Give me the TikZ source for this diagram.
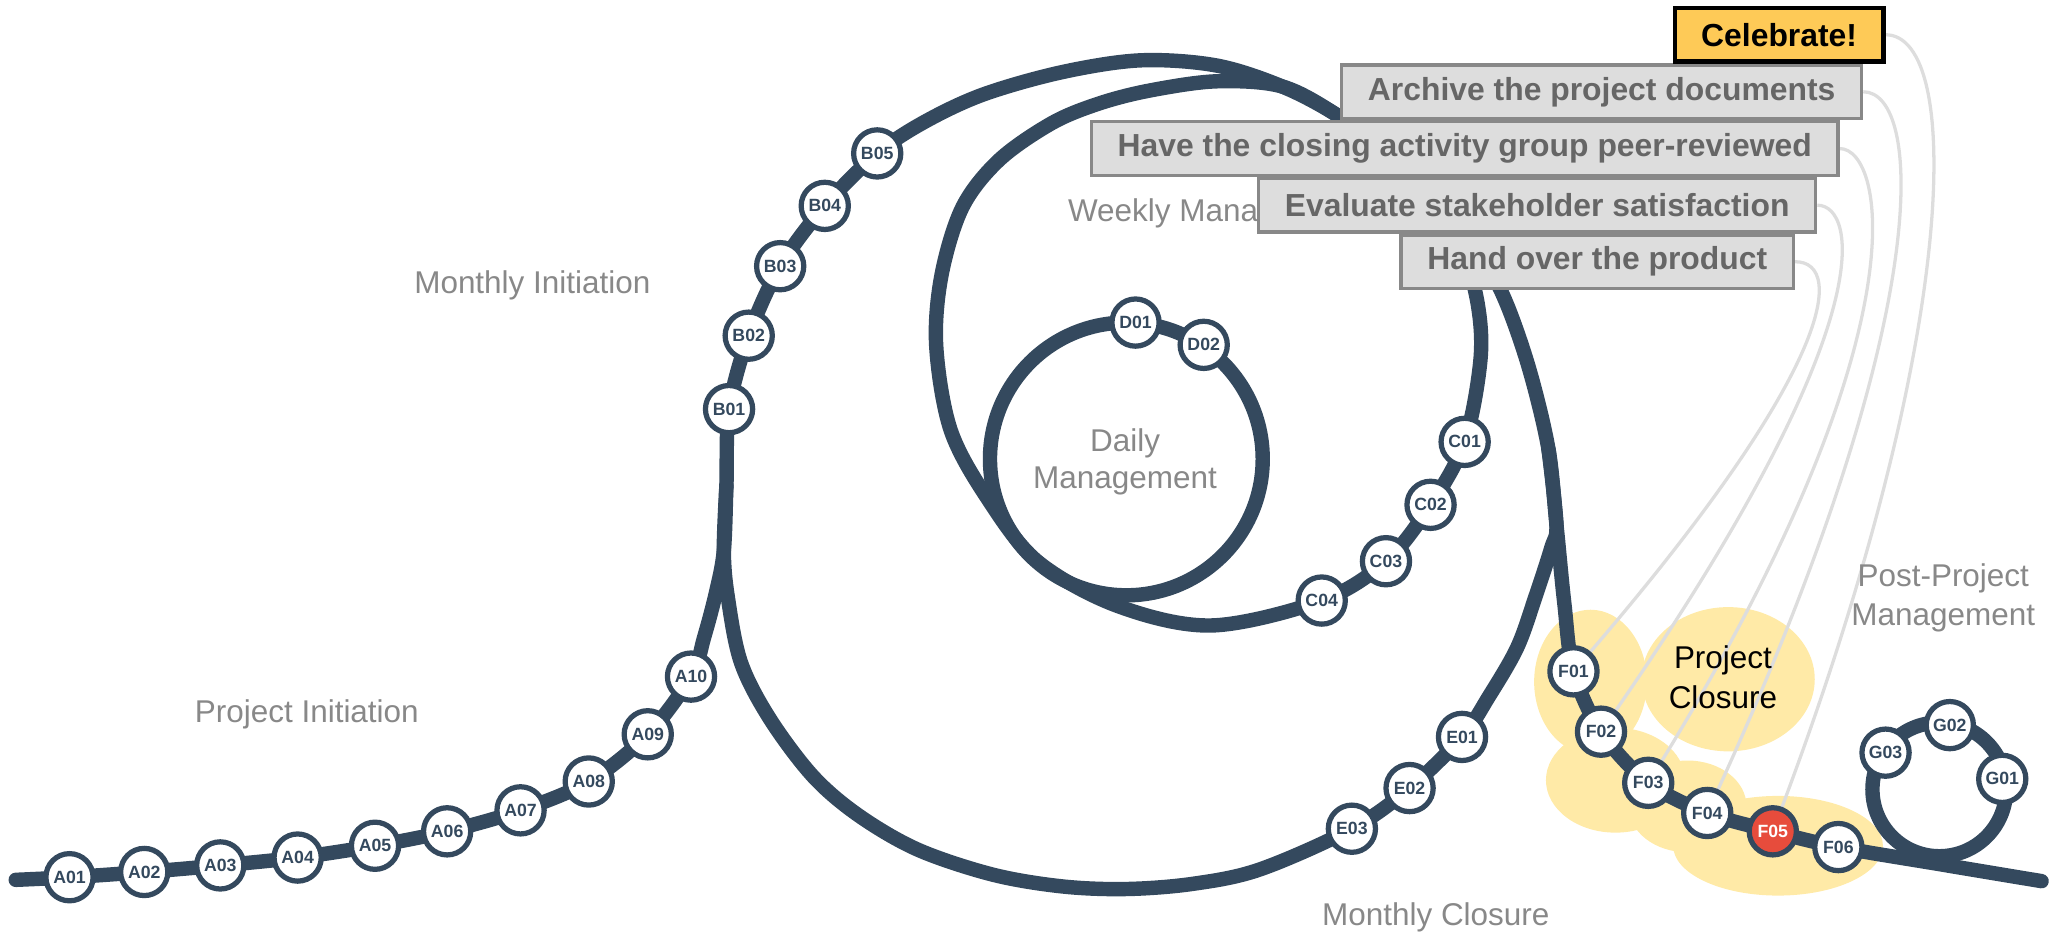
\documentclass[tikz,border=0pt]{standalone}
\usepackage{fontspec}
\setmainfont{Liberation Sans}
\usetikzlibrary{calc}
\definecolor{trk}{HTML}{34495E}
\definecolor{stred}{HTML}{E74C3C}
\definecolor{blobc}{HTML}{FFEAA7}
\definecolor{lbl}{HTML}{888888}
\definecolor{boxfill}{HTML}{DDDDDD}
\definecolor{boxdraw}{HTML}{888888}
\definecolor{boxtext}{HTML}{666666}
\definecolor{celfill}{HTML}{FECA57}
\definecolor{lnk}{HTML}{DDDDDD}
\pgfdeclarelayer{blobs}
\pgfdeclarelayer{tracks}
\pgfsetlayers{blobs,tracks,main}
\tikzset{
  stn/.style={circle, draw=trk, line width=4pt, fill=white, minimum size=36pt, inner sep=0pt, text=trk, font=\fontsize{13.5}{14}\selectfont\bfseries},
  stnred/.style={stn, fill=stred, text=white},
  track/.style={draw=trk, line width=11pt, line cap=round, line join=round},
  link/.style={draw=lnk, line width=2.5pt},
  task/.style={draw=boxdraw, fill=boxfill, line width=2.5pt, text=boxtext, font=\fontsize{24.3}{28}\selectfont\bfseries, minimum height=40.8pt, inner xsep=20pt, anchor=east},
  cel/.style={task, draw=black, fill=celfill, text=black, line width=3.5pt},
  lab/.style={text=lbl, font=\fontsize{24}{29}\selectfont, anchor=base},
}
\begin{document}
\begin{tikzpicture}[x=1pt,y=-1pt]
\useasboundingbox (0,0) rectangle (1568,718);

% text labels
\node[lab] (lMI) at (406,224) {Monthly Initiation};
\node[lab] (lPI) at (234,551) {Project Initiation};
\node[lab, anchor=base west] (lWM) at (811,169) {Weekly Management};
\node[lab] (lDM1) at (858,344) {Daily};
\node[lab] (lDM2) at (858,372.5) {Management};
\node[lab] (lMC) at (1095,706) {Monthly Closure};
\node[lab] (lPP1) at (1482,447) {Post-Project};
\node[lab] (lPP2) at (1482,477) {Management};
\node[lab, text=black] (lPC1) at (1314,510) {Project};
\node[lab, text=black] (lPC2) at (1314,540) {Closure};

% stations
\foreach \n/\x/\y in {A01/53/669, A02/110/665, A03/168/660, A04/227/654, A05/286/645,
  A06/341/634, A07/397/618, A08/449/596, A09/494/560, A10/527/516,
  B01/556/312, B02/571/256, B03/595/203, B04/629/157, B05/669/117,
  C01/1117/337, C02/1091/385, C03/1057/428, C04/1008/458,
  D01/866/246, D02/918/263,
  E01/1115/562, E02/1075/601, E03/1031/632,
  F01/1200/512, F02/1221/558, F03/1257/597, F04/1302/620, F06/1402/646,
  G01/1527/594, G02/1487/553, G03/1438/574}
  \node[stn] (\n) at (\x,\y) {\n};
\node[stnred] (F05) at (1352,634) {F05};

\coordinate (dc) at (859,350);
\coordinate (gc) at (1479,602);
\coordinate (start) at (12,671);
\coordinate (end) at (1557,672);

% task boxes
\node[task] (tHand) at (1369,199.6) {Hand over the product};
\node[task] (tEval) at (1386,156.5) {Evaluate stakeholder satisfaction};
\node[task] (tHave) at (1403,113.3) {Have the closing activity group peer-reviewed};
\node[task] (tArch) at (1421,70) {Archive the project documents};
\node[cel] (tCel) at (1438,26.5) {Celebrate!};

\begin{pgfonlayer}{blobs}
\fill[blobc] (1213,520) ellipse[x radius=43pt, y radius=55pt];
\fill[blobc] (1318,518) ellipse[x radius=66pt, y radius=55pt];
\fill[blobc] (1232,595) ellipse[x radius=53pt, y radius=40pt];
\fill[blobc] (1287,615) ellipse[x radius=45pt, y radius=35pt];
\fill[blobc] (1356,645) ellipse[x radius=80pt, y radius=38pt];
\end{pgfonlayer}

\begin{pgfonlayer}{tracks}
% links from tasks
\draw[link] (tCel.east) .. controls +(60,0) and ($(F05.center)+(143,-373)$) .. (F05.center);
\draw[link] (tArch.east) .. controls +(45,0) and ($(F04.center)+(177,-381)$) .. (F04.center);
\draw[link] (tHave.east) .. controls +(35,0) and ($(F03.center)+(212,-339)$) .. (F03.center);
\draw[link] (tEval.east) .. controls +(30,0) and ($(F02.center)+(218,-311)$) .. (F02.center);
\draw[link] (tHand.east) .. controls +(40,0) and ($(F01.center)+(197,-226)$) .. (F01.center);
% main line
\draw[track] plot[smooth, tension=0.55] coordinates {(start) (A01.center) (A02.center) (A03.center) (A04.center) (A05.center) (A06.center) (A07.center) (A08.center) (A09.center) (A10.center) (537,486) (546,452) (552,420) (554,370) (B01.center) (B02.center) (B03.center) (B04.center) (B05.center) (705,93) (750,72) (810,55) (870,46) (928,50) (978,66) (1020,88) (1065,120) (1105,160) (1133,200) (1150,234) (1167,284) (1181,343) (1187,400) (1193,460) (F01.center) (F02.center) (F03.center) (F04.center) (F05.center) (F06.center) (1479,659) (end)};
% monthly loop
\draw[track] plot[smooth, tension=0.55] coordinates {(554,370) (552,420) (555,455) (565,505) (587,548) (620,592) (655,622) (700,648) (757,667) (810,676) (859,678) (910,674) (961,663) (E03.center) (E02.center) (E01.center) (1135,532) (1157,494) (1171,455) (1183,418) (1187,400) (1181,343)};
% weekly loop
\draw[track] plot[smooth cycle, tension=0.55] coordinates {(877,69) (928,62) (978,66) (1020,88) (1060,118) (1093,152) (1115,190) (1127,232) (1129,275) (C01.center) (C02.center) (C03.center) (C04.center) (924,477) (852,462) (791,428) (753,380) (725,328) (714,264) (718,210) (734,158) (762,122) (802,94) (838,79)};
% daily loop
\draw[track] (dc) circle[radius=104pt];
% post-project loop
\draw[track] (gc) circle[radius=51pt];
\end{pgfonlayer}
\end{tikzpicture}
\end{document}
